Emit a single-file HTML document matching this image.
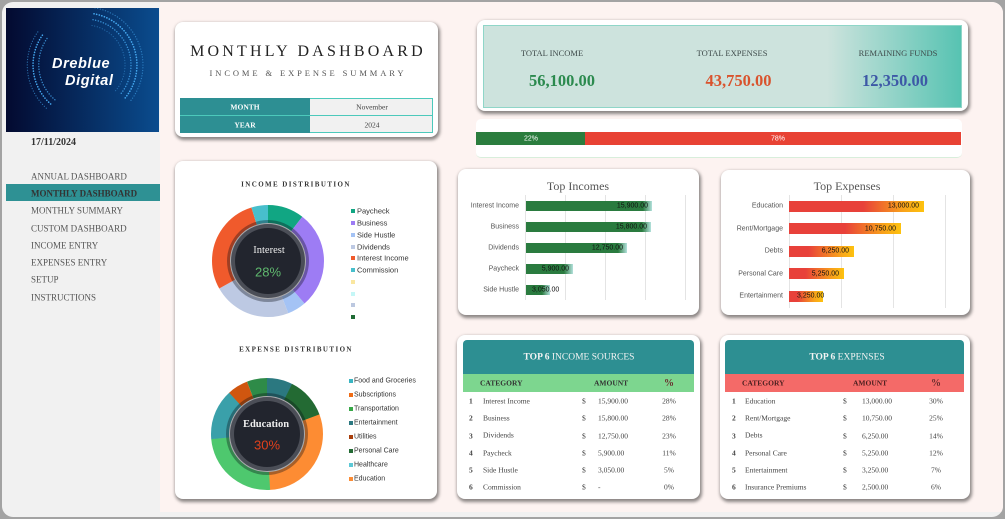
<!DOCTYPE html>
<html><head><meta charset="utf-8">
<style>
*{margin:0;padding:0;box-sizing:border-box}
html,body{width:1005px;height:519px;overflow:hidden;background:#a3a3a3;font-family:"Liberation Serif",serif}
.t{position:absolute;white-space:nowrap;line-height:1}
.c{transform:translate(-50%,-50%)}
.l{transform:translateY(-50%)}
.r{transform:translate(-100%,-50%)}
.card{position:absolute;background:#fff;border-radius:8px;box-shadow:1px 2px 3px 1px rgba(0,0,0,.45)}
.nav{position:absolute;left:31px;font-size:9px;color:#555;white-space:nowrap;line-height:1;transform:translateY(-50%)}
.sa{font-family:"Liberation Sans",Arial,sans-serif}
.lg{position:absolute;width:4px;height:4px}
.bar{position:absolute}
.grid{position:absolute;width:1px;background:#e4e4e4}
.row{font-size:7.5px;color:#444}
</style></head><body>
<div style="position:absolute;left:2px;top:2px;width:1001px;height:515px;border-radius:11px;background:#f1f1f1;overflow:hidden">
  <div style="position:absolute;left:158px;top:0;width:843px;height:510px;background:#fdf3f1"></div>
</div>

<!-- logo -->
<svg style="position:absolute;left:6px;top:8px" width="153" height="124" viewBox="0 0 153 124">
<defs><linearGradient id="lg1" x1="0" y1="0" x2="1" y2="0"><stop offset="0" stop-color="#030a30"/><stop offset="1" stop-color="#0a4c8e"/></linearGradient></defs>
<rect width="153" height="124" fill="url(#lg1)"/>
<g fill="none" stroke="#45a8f0" stroke-linecap="round" stroke-dasharray="0.1 2.6">
<path d="M36.4,27.2 A52,52 0 0 0 45.6,96.8" stroke-width="1.6"/>
<path d="M41,30.5 A46,46 0 0 0 49.4,92.2" stroke-width="1.4" opacity=".8"/>
<path d="M31.8,23.9 A58,58 0 0 0 41.7,101.4" stroke-width="1.2" opacity=".6"/>
<path d="M88,5.8 A52,52 0 0 1 118.8,90.4" stroke-width="1.6"/>
<path d="M87,11.7 A46,46 0 0 1 114.2,86.6" stroke-width="1.4" opacity=".8"/>
<path d="M89,-0.1 A58,58 0 0 1 123.4,94.3" stroke-width="1.2" opacity=".6"/>
<path d="M86,17.5 A40,40 0 0 1 109.6,82.7" stroke-width="1.1" opacity=".5"/>
</g>
<text x="46" y="60" fill="#fff" font-family="Liberation Sans,sans-serif" font-weight="bold" font-style="italic" font-size="14.5" letter-spacing=".6">Dreblue</text>
<text x="59" y="77" fill="#fff" font-family="Liberation Sans,sans-serif" font-weight="bold" font-style="italic" font-size="14.5" letter-spacing=".6">Digital</text>
</svg>

<div class="t l" style="left:31px;top:143px;font-size:10px;font-weight:bold;color:#333">17/11/2024</div>
<div style="position:absolute;left:6px;top:184px;width:154px;height:17px;background:#2e9194"></div>
<div class="nav" style="top:177px">ANNUAL DASHBOARD</div>
<div class="nav" style="top:193.5px;color:#333;font-weight:bold">MONTHLY DASHBOARD</div>
<div class="nav" style="top:211px">MONTHLY SUMMARY</div>
<div class="nav" style="top:228.5px">CUSTOM DASHBOARD</div>
<div class="nav" style="top:245.5px">INCOME ENTRY</div>
<div class="nav" style="top:263px">EXPENSES ENTRY</div>
<div class="nav" style="top:280px">SETUP</div>
<div class="nav" style="top:297.5px">INSTRUCTIONS</div>

<!-- title card -->
<div class="card" style="left:175px;top:22px;width:263px;height:115px"></div>
<div class="t c" style="left:308px;top:52px;font-size:16px;letter-spacing:3.2px;color:#222">MONTHLY DASHBOARD</div>
<div class="t c" style="left:308px;top:73px;font-size:8.5px;letter-spacing:2.9px;color:#555">INCOME &amp; EXPENSE SUMMARY</div>
<div style="position:absolute;left:180px;top:98px;width:253px;height:35px;border:1px solid #4cc9bb;background:#f1f1f1"></div>
<div style="position:absolute;left:180px;top:98px;width:130px;height:35px;background:#2d8f93"></div>
<div style="position:absolute;left:180px;top:115px;width:253px;height:1px;background:#4cc9bb"></div>
<div class="t c" style="left:245px;top:107px;font-size:7.5px;font-weight:bold;color:#fff">MONTH</div>
<div class="t c" style="left:245px;top:124.5px;font-size:7.5px;font-weight:bold;color:#fff">YEAR</div>
<div class="t c" style="left:372px;top:107px;font-size:7.5px;color:#444">November</div>
<div class="t c" style="left:372px;top:124.5px;font-size:7.5px;color:#444">2024</div>

<!-- totals -->
<div class="card" style="left:477px;top:20px;width:491px;height:91px"></div>
<div style="position:absolute;left:483px;top:25px;width:479px;height:83px;border:1px solid #8fd6c8;background:linear-gradient(to right,#cde3dd 0%,#cde3dd 72%,#57c3b2 100%)"></div>
<div class="t c" style="left:552px;top:53px;font-size:8.5px;color:#3e4a4a">TOTAL INCOME</div>
<div class="t c" style="left:732px;top:53px;font-size:8.5px;color:#3e4a4a">TOTAL EXPENSES</div>
<div class="t c" style="left:898px;top:53px;font-size:8.5px;color:#3e4a4a">REMAINING FUNDS</div>
<div class="t c" style="left:562px;top:81px;font-size:16.5px;font-weight:bold;color:#2b8a4e">56,100.00</div>
<div class="t c" style="left:738.5px;top:81px;font-size:16.5px;font-weight:bold;color:#d9532d">43,750.00</div>
<div class="t c" style="left:895px;top:81px;font-size:16.5px;font-weight:bold;color:#3d58a6">12,350.00</div>

<!-- progress -->
<div style="position:absolute;left:476px;top:119px;width:486px;height:39px;background:#fff;border-radius:5px;border-bottom:1px solid #d8eedb"></div>
<div style="position:absolute;left:476px;top:132px;width:109px;height:13px;background:#2b7d3e"></div>
<div style="position:absolute;left:585px;top:132px;width:376px;height:13px;background:#e84234"></div>
<div class="t c sa" style="left:531px;top:138.5px;font-size:7px;color:#fff">22%</div>
<div class="t c sa" style="left:778px;top:138.5px;font-size:7px;color:#fff">78%</div>

<!-- distribution card -->
<div class="card" style="left:175px;top:161px;width:262px;height:338px"></div>
<div class="t c" style="left:296px;top:185px;font-size:7px;font-weight:bold;letter-spacing:1.4px;color:#333">INCOME DISTRIBUTION</div>
<div class="t c" style="left:296px;top:350px;font-size:7px;font-weight:bold;letter-spacing:1.4px;color:#333">EXPENSE DISTRIBUTION</div>

<svg style="position:absolute;left:0;top:0" width="1005" height="519">
<g fill="none" stroke-width="18" transform="rotate(-90 268 261)">
<circle cx="268" cy="261" r="47" pathLength="100" stroke="#11a683" stroke-dasharray="10.5 100" stroke-dashoffset="0"/>
<circle cx="268" cy="261" r="47" pathLength="100" stroke="#9d7cf4" stroke-dasharray="28.2 100" stroke-dashoffset="-10.5"/>
<circle cx="268" cy="261" r="47" pathLength="100" stroke="#a4c3f5" stroke-dasharray="5.4 100" stroke-dashoffset="-38.7"/>
<circle cx="268" cy="261" r="47" pathLength="100" stroke="#bdc9e3" stroke-dasharray="22.7 100" stroke-dashoffset="-44.1"/>
<circle cx="268" cy="261" r="47" pathLength="100" stroke="#f05a2c" stroke-dasharray="28.4 100" stroke-dashoffset="-66.8"/>
<circle cx="268" cy="261" r="47" pathLength="100" stroke="#48bfcc" stroke-dasharray="4.8 100" stroke-dashoffset="-95.2"/>
</g>
<circle cx="268" cy="261" r="41" fill="rgba(10,12,20,.35)"/>
<circle cx="268" cy="261" r="37" fill="#4b4e57"/>
<circle cx="268" cy="261" r="33" fill="#22252e"/>

<g fill="none" stroke-width="18" transform="rotate(-90 267 434)">
<circle cx="267" cy="434" r="47" pathLength="100" stroke="#2b7880" stroke-dasharray="7.5 100" stroke-dashoffset="0"/>
<circle cx="267" cy="434" r="47" pathLength="100" stroke="#236a33" stroke-dasharray="12 100" stroke-dashoffset="-7.4"/>
<circle cx="267" cy="434" r="47" pathLength="100" stroke="#fd8c33" stroke-dasharray="29.9 100" stroke-dashoffset="-19.3"/>
<circle cx="267" cy="434" r="47" pathLength="100" stroke="#4ec86e" stroke-dasharray="24.5 100" stroke-dashoffset="-49.1"/>
<circle cx="267" cy="434" r="47" pathLength="100" stroke="#3aa0aa" stroke-dasharray="14.8 100" stroke-dashoffset="-73.5"/>
<circle cx="267" cy="434" r="47" pathLength="100" stroke="#d0560f" stroke-dasharray="6 100" stroke-dashoffset="-88.2"/>
<circle cx="267" cy="434" r="47" pathLength="100" stroke="#2e8b48" stroke-dasharray="5.8 100" stroke-dashoffset="-94.2"/>
</g>
<circle cx="267" cy="434" r="41" fill="rgba(10,12,20,.35)"/>
<circle cx="267" cy="434" r="37" fill="#4b4e57"/>
<circle cx="267" cy="434" r="33" fill="#22252e"/>
</svg>
<div class="t c" style="left:269px;top:250.5px;font-size:10.5px;color:#eee">Interest</div>
<div class="t c sa" style="left:268px;top:272px;font-size:13px;color:#5fb86e">28%</div>
<div class="t c" style="left:266px;top:424.5px;font-size:10.5px;font-weight:bold;color:#eee">Education</div>
<div class="t c sa" style="left:267px;top:444.5px;font-size:13px;color:#e0401c">30%</div>

<!-- income legend -->
<div class="lg" style="left:351px;top:209px;background:#11a683"></div><div class="t l sa" style="left:357px;top:211.3px;font-size:7.5px;color:#333">Paycheck</div>
<div class="lg" style="left:351px;top:221px;background:#9d7cf4"></div><div class="t l sa" style="left:357px;top:223px;font-size:7.5px;color:#333">Business</div>
<div class="lg" style="left:351px;top:233px;background:#a4c3f5"></div><div class="t l sa" style="left:357px;top:235px;font-size:7.5px;color:#333">Side Hustle</div>
<div class="lg" style="left:351px;top:244.5px;background:#bdc9e3"></div><div class="t l sa" style="left:357px;top:246.7px;font-size:7.5px;color:#333">Dividends</div>
<div class="lg" style="left:351px;top:256px;background:#f05a2c"></div><div class="t l sa" style="left:357px;top:258.3px;font-size:7.5px;color:#333">Interest Income</div>
<div class="lg" style="left:351px;top:268px;background:#48bfcc"></div><div class="t l sa" style="left:357px;top:270px;font-size:7.5px;color:#333">Commission</div>
<div class="lg" style="left:351px;top:280px;background:#fae7a0"></div>
<div class="lg" style="left:351px;top:291.5px;background:#c5f7f7"></div>
<div class="lg" style="left:351px;top:303px;background:#bcc8e0"></div>
<div class="lg" style="left:351px;top:315px;background:#1f6b35"></div>

<!-- expense legend -->
<div class="lg" style="left:349px;top:379px;background:#3ab5c2"></div><div class="t l sa" style="left:354px;top:381px;font-size:7px;color:#333">Food and Groceries</div>
<div class="lg" style="left:349px;top:393px;background:#ef6c16"></div><div class="t l sa" style="left:354px;top:395px;font-size:7px;color:#333">Subscriptions</div>
<div class="lg" style="left:349px;top:407px;background:#38a848"></div><div class="t l sa" style="left:354px;top:409px;font-size:7px;color:#333">Transportation</div>
<div class="lg" style="left:349px;top:421px;background:#2b7880"></div><div class="t l sa" style="left:354px;top:423px;font-size:7px;color:#333">Entertainment</div>
<div class="lg" style="left:349px;top:435px;background:#a83e0c"></div><div class="t l sa" style="left:354px;top:437px;font-size:7px;color:#333">Utilities</div>
<div class="lg" style="left:349px;top:449px;background:#236a33"></div><div class="t l sa" style="left:354px;top:451px;font-size:7px;color:#333">Personal Care</div>
<div class="lg" style="left:349px;top:463px;background:#5cc8d6"></div><div class="t l sa" style="left:354px;top:465px;font-size:7px;color:#333">Healthcare</div>
<div class="lg" style="left:349px;top:477px;background:#fb8c35"></div><div class="t l sa" style="left:354px;top:479px;font-size:7px;color:#333">Education</div>

<!-- top incomes -->
<div class="card" style="left:458px;top:169px;width:241px;height:146px"></div>
<div class="t c" style="left:578px;top:185.5px;font-size:12px;color:#555">Top Incomes</div>
<div class="grid" style="left:525px;top:195px;height:105px"></div>
<div class="grid" style="left:565px;top:195px;height:105px"></div>
<div class="grid" style="left:605px;top:195px;height:105px"></div>
<div class="grid" style="left:645px;top:195px;height:105px"></div>
<div class="grid" style="left:685px;top:195px;height:105px"></div>
<div class="bar" style="left:526px;top:201px;width:126px;height:10px;background:linear-gradient(to right,#2a7b3f 0,#2a7b3f calc(100% - 9px),#b3e1dc 100%)"></div>
<div class="bar" style="left:526px;top:222px;width:125px;height:10px;background:linear-gradient(to right,#2a7b3f 0,#2a7b3f calc(100% - 9px),#b3e1dc 100%)"></div>
<div class="bar" style="left:526px;top:243px;width:101px;height:10px;background:linear-gradient(to right,#2a7b3f 0,#2a7b3f calc(100% - 9px),#b3e1dc 100%)"></div>
<div class="bar" style="left:526px;top:264px;width:47px;height:10px;background:linear-gradient(to right,#2a7b3f 0,#2a7b3f calc(100% - 9px),#b3e1dc 100%)"></div>
<div class="bar" style="left:526px;top:285px;width:24px;height:10px;background:linear-gradient(to right,#2a7b3f 0,#2a7b3f calc(100% - 8px),#b3e1dc 100%)"></div>
<div class="t r sa" style="left:519px;top:206px;font-size:7px;color:#555">Interest Income</div>
<div class="t r sa" style="left:519px;top:227px;font-size:7px;color:#555">Business</div>
<div class="t r sa" style="left:519px;top:248px;font-size:7px;color:#555">Dividends</div>
<div class="t r sa" style="left:519px;top:269px;font-size:7px;color:#555">Paycheck</div>
<div class="t r sa" style="left:519px;top:290px;font-size:7px;color:#555">Side Hustle</div>
<div class="t r sa" style="left:648px;top:206px;font-size:7px;color:#111">15,900.00</div>
<div class="t r sa" style="left:647px;top:227px;font-size:7px;color:#111">15,800.00</div>
<div class="t r sa" style="left:623px;top:248px;font-size:7px;color:#111">12,750.00</div>
<div class="t r sa" style="left:569px;top:269px;font-size:7px;color:#111">5,900.00</div>
<div class="t l sa" style="left:532px;top:290px;font-size:7px;color:#111">3,050.00</div>

<!-- top expenses -->
<div class="card" style="left:721px;top:170px;width:249px;height:145px"></div>
<div class="t c" style="left:847px;top:186px;font-size:12px;color:#555">Top Expenses</div>
<div class="grid" style="left:789px;top:195px;height:113px"></div>
<div class="grid" style="left:841px;top:195px;height:113px"></div>
<div class="grid" style="left:893px;top:195px;height:113px"></div>
<div class="grid" style="left:945px;top:195px;height:113px"></div>
<div class="bar" style="left:789px;top:201px;width:135px;height:11px;background:linear-gradient(to right,#e8413a 0,#e8413a 55%,#f9a41a 85%,#fdc20e 100%)"></div>
<div class="bar" style="left:789px;top:223px;width:112px;height:11px;background:linear-gradient(to right,#e8413a 0,#e8413a 50%,#f9a41a 85%,#fdc20e 100%)"></div>
<div class="bar" style="left:789px;top:246px;width:65px;height:11px;background:linear-gradient(to right,#e8413a 0,#e8413a 30%,#f9a41a 80%,#fdc20e 100%)"></div>
<div class="bar" style="left:789px;top:268px;width:55px;height:11px;background:linear-gradient(to right,#e8413a 0,#e8413a 30%,#f9a41a 80%,#fdc20e 100%)"></div>
<div class="bar" style="left:789px;top:291px;width:34px;height:11px;background:linear-gradient(to right,#e8413a 0,#e8413a 25%,#f9a41a 75%,#fdc20e 100%)"></div>
<div class="t r sa" style="left:783px;top:206.3px;font-size:7px;color:#555">Education</div>
<div class="t r sa" style="left:783px;top:228.7px;font-size:7px;color:#555">Rent/Mortgage</div>
<div class="t r sa" style="left:783px;top:251.3px;font-size:7px;color:#555">Debts</div>
<div class="t r sa" style="left:783px;top:273.7px;font-size:7px;color:#555">Personal Care</div>
<div class="t r sa" style="left:783px;top:296px;font-size:7px;color:#555">Entertainment</div>
<div class="t r sa" style="left:919px;top:206.3px;font-size:7px;color:#111">13,000.00</div>
<div class="t r sa" style="left:896px;top:228.7px;font-size:7px;color:#111">10,750.00</div>
<div class="t r sa" style="left:849px;top:251.3px;font-size:7px;color:#111">6,250.00</div>
<div class="t r sa" style="left:839px;top:273.7px;font-size:7px;color:#111">5,250.00</div>
<div class="t l sa" style="left:797px;top:296px;font-size:7px;color:#111">3,250.00</div>

<!-- top 6 income -->
<div class="card" style="left:457px;top:335px;width:243px;height:164px"></div>
<div style="position:absolute;left:463px;top:340px;width:231px;height:34px;background:#2d8f92;border-radius:4px 4px 0 0"></div>
<div style="position:absolute;left:463px;top:374px;width:231px;height:18px;background:#7dd68f"></div>
<div class="t c" style="left:579px;top:358px;font-size:9.5px;color:#f4f4f4"><b>TOP 6</b> INCOME SOURCES</div>
<div class="t l" style="left:480px;top:383px;font-size:7.5px;font-weight:bold;color:#333">CATEGORY</div>
<div class="t l" style="left:594px;top:383px;font-size:7.5px;font-weight:bold;color:#333">AMOUNT</div>
<div class="t c" style="left:669px;top:384px;font-size:10px;font-weight:bold;color:#6a2e2e">%</div>

<div class="t l row" style="left:469px;top:401px;font-weight:bold">1</div><div class="t l row" style="left:483px;top:400.5px">Interest Income</div><div class="t l row" style="left:582px;top:401px">$</div><div class="t l row" style="left:598px;top:401px">15,900.00</div><div class="t c row" style="left:669px;top:401px">28%</div>
<div class="t l row" style="left:469px;top:418px;font-weight:bold">2</div><div class="t l row" style="left:483px;top:417.5px">Business</div><div class="t l row" style="left:582px;top:418px">$</div><div class="t l row" style="left:598px;top:418px">15,800.00</div><div class="t c row" style="left:669px;top:418px">28%</div>
<div class="t l row" style="left:469px;top:435.5px;font-weight:bold">3</div><div class="t l row" style="left:483px;top:435px">Dividends</div><div class="t l row" style="left:582px;top:435.5px">$</div><div class="t l row" style="left:598px;top:435.5px">12,750.00</div><div class="t c row" style="left:669px;top:435.5px">23%</div>
<div class="t l row" style="left:469px;top:453px;font-weight:bold">4</div><div class="t l row" style="left:483px;top:452.5px">Paycheck</div><div class="t l row" style="left:582px;top:453px">$</div><div class="t l row" style="left:598px;top:453px">5,900.00</div><div class="t c row" style="left:669px;top:453px">11%</div>
<div class="t l row" style="left:469px;top:470px;font-weight:bold">5</div><div class="t l row" style="left:483px;top:469.5px">Side Hustle</div><div class="t l row" style="left:582px;top:470px">$</div><div class="t l row" style="left:598px;top:470px">3,050.00</div><div class="t c row" style="left:669px;top:470px">5%</div>
<div class="t l row" style="left:469px;top:487px;font-weight:bold">6</div><div class="t l row" style="left:483px;top:486.5px">Commission</div><div class="t l row" style="left:582px;top:487px">$</div><div class="t l row" style="left:598px;top:487px">-</div><div class="t c row" style="left:669px;top:487px">0%</div>

<!-- top 6 expenses -->
<div class="card" style="left:720px;top:335px;width:250px;height:164px"></div>
<div style="position:absolute;left:725px;top:340px;width:239px;height:34px;background:#2d8f92;border-radius:4px 4px 0 0"></div>
<div style="position:absolute;left:725px;top:374px;width:239px;height:18px;background:#f46a68"></div>
<div class="t c" style="left:847px;top:358px;font-size:9.5px;color:#f4f4f4"><b>TOP 6</b> EXPENSES</div>
<div class="t l" style="left:742px;top:383px;font-size:7.5px;font-weight:bold;color:#4a1f1f">CATEGORY</div>
<div class="t l" style="left:853px;top:383px;font-size:7.5px;font-weight:bold;color:#4a1f1f">AMOUNT</div>
<div class="t c" style="left:936px;top:384px;font-size:10px;font-weight:bold;color:#6a2e2e">%</div>

<div class="t l row" style="left:732px;top:401px;font-weight:bold">1</div><div class="t l row" style="left:745px;top:400.5px">Education</div><div class="t l row" style="left:843px;top:401px">$</div><div class="t l row" style="left:862px;top:401px">13,000.00</div><div class="t c row" style="left:936px;top:401px">30%</div>
<div class="t l row" style="left:732px;top:418px;font-weight:bold">2</div><div class="t l row" style="left:745px;top:417.5px">Rent/Mortgage</div><div class="t l row" style="left:843px;top:418px">$</div><div class="t l row" style="left:862px;top:418px">10,750.00</div><div class="t c row" style="left:936px;top:418px">25%</div>
<div class="t l row" style="left:732px;top:435.5px;font-weight:bold">3</div><div class="t l row" style="left:745px;top:435px">Debts</div><div class="t l row" style="left:843px;top:435.5px">$</div><div class="t l row" style="left:862px;top:435.5px">6,250.00</div><div class="t c row" style="left:936px;top:435.5px">14%</div>
<div class="t l row" style="left:732px;top:453px;font-weight:bold">4</div><div class="t l row" style="left:745px;top:452.5px">Personal Care</div><div class="t l row" style="left:843px;top:453px">$</div><div class="t l row" style="left:862px;top:453px">5,250.00</div><div class="t c row" style="left:936px;top:453px">12%</div>
<div class="t l row" style="left:732px;top:470px;font-weight:bold">5</div><div class="t l row" style="left:745px;top:469.5px">Entertainment</div><div class="t l row" style="left:843px;top:470px">$</div><div class="t l row" style="left:862px;top:470px">3,250.00</div><div class="t c row" style="left:936px;top:470px">7%</div>
<div class="t l row" style="left:732px;top:487px;font-weight:bold">6</div><div class="t l row" style="left:745px;top:486.5px">Insurance Premiums</div><div class="t l row" style="left:843px;top:487px">$</div><div class="t l row" style="left:862px;top:487px">2,500.00</div><div class="t c row" style="left:936px;top:487px">6%</div>

</body></html>
